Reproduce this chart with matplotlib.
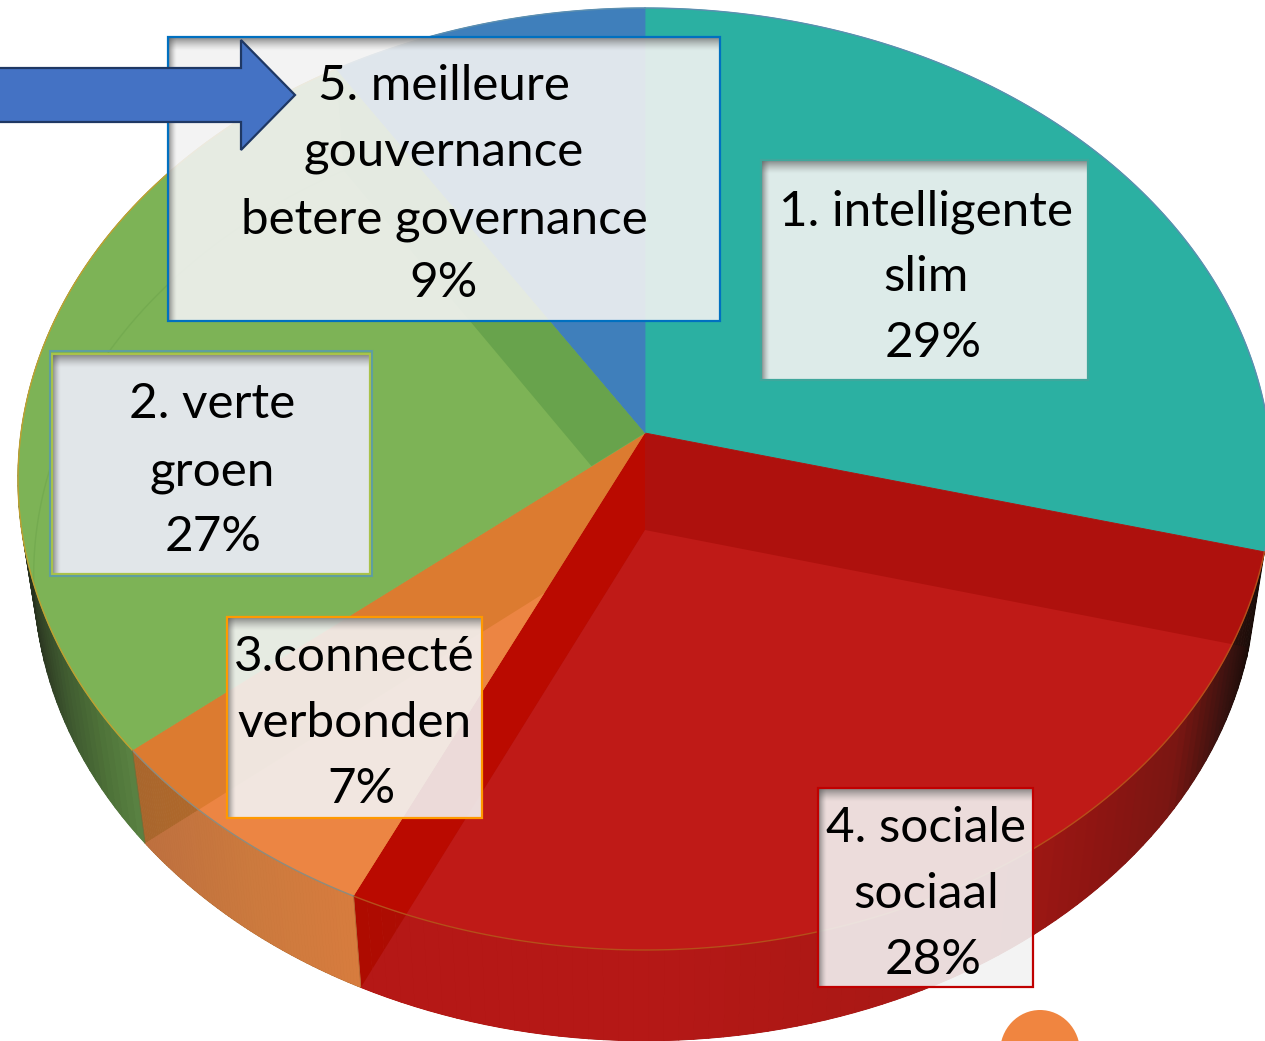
import numpy as np
import matplotlib
matplotlib.use('Agg')
import matplotlib.pyplot as plt
from matplotlib.collections import PolyCollection
from matplotlib.colors import to_rgb
from matplotlib.patches import Polygon, Rectangle, Ellipse

plt.rcParams['font.family'] = ['Lato', 'DejaVu Sans']

# slice shares, clockwise from 12 o'clock
values = [29, 28, 7, 27, 9]
names = ['slim', 'sociaal', 'verbonden', 'groen', 'governance']
top_colors = ['#2BB0A2', '#AE110D', '#DC7B30', '#7DB356', '#3F7FBB']
floor_colors = [None, '#BF1A17', '#EC8543', None, None]
band_colors = [None, '#BA0A00', None, '#68A34C', None]
rim_colors = ['#5C8FB0', '#B5501A', '#8C8C80', '#C0A030', '#5C8FB0']

# side wall colours against x pixel: (x, outside floor, inside floor)
side_x = {
    1: [355, 640, 1000, 1100, 1180, 1210, 1232, 1262],
    2: [133, 250, 360],
    3: [18, 60, 100, 147],
}
side_out = {
    1: ['#AE0B00', '#A81210', '#A51814', '#8E1512', '#7A1612', '#551410', '#2C100C', '#1A0C08'],
    2: ['#A9662C', '#B56A2A', '#B56A2A'],
    3: ['#27301E', '#3F5A30', '#4F7439', '#5F8A48'],
}
side_in = {
    1: ['#B51816', '#B51816', '#A51814', '#8E1512', '#7A1612', '#551410', '#3A1210', '#1A0C08'],
    2: ['#BE703F', '#CC7A3E', '#D87C3E'],
    3: ['#27301E', '#3F5A30', '#4F7439', '#5F8A48'],
}

# label boxes: left, top, right, bottom, border colour, fill, fill alpha
box_coords = [
    (761, 160, 1088, 380, '#3FA79C', '#F2F2F2', 0.9),
    (52, 354, 370, 574, '#A9C24A', '#E1E6E9', 1.0),
    (227, 617, 482, 818, '#FF9900', '#F2F2F2', 0.9),
    (818, 788, 1033, 987, '#C00000', '#F2F2F2', 0.9),
    (168, 37, 720, 321, '#0070C0', '#F2F2F2', 0.9),
]
# text lines: centre x, baseline y, text
label_lines = [
    (926, 225, '1. intelligente'), (926, 291, 'slim'), (933, 357, '29%'),
    (212, 418, '2. verte'), (212, 485, 'groen'), (213, 551, '27%'),
    (354, 671, '3.connecté'), (354, 737, 'verbonden'), (361, 803, '7%'),
    (926, 842, '4. sociale'), (926, 908, 'sociaal'), (933, 974, '28%'),
    (444, 100, '5. meilleure'), (444, 166, 'gouvernance'),
    (444, 233, 'betere governance'), (444, 297, '9%'),
]
arrow_x = [-6, 241, 241, 295, 241, 241, -6]
arrow_y = [68, 68, 40, 95, 150, 122, 122]

APEX_X, APEX_Y = 645, 433
K = 0.0977
A, B = 624, 466.5


def rim(frac):
    phi = 2 * np.pi * np.asarray(frac)
    x, y = np.sin(phi), np.cos(phi)
    d = 1 + K * y
    return A * x / d, B * y / d


def top_pts(frac):
    x, y = rim(frac)
    return np.column_stack([APEX_X + x, APEX_Y - y])


def low_pts(frac):
    x, y = rim(frac)
    return np.column_stack([APEX_X + 0.975 * x, APEX_Y + 97 - 0.988 * y])


def grad(xs, colors, x):
    rgb = np.array([to_rgb(c) for c in colors])
    return np.column_stack([np.interp(x, xs, rgb[:, i]) for i in range(3)])


def poly(ax, pts, color, clip=None, zorder=1, lw=0):
    p = Polygon(pts, closed=True, facecolor=color, edgecolor=color, lw=lw,
                zorder=zorder, transform=ax.transData)
    ax.add_patch(p)
    if clip is not None:
        p.set_clip_path(clip)
    return p


def side_wall(ax, fr, xs, colors, clip=None, zorder=1):
    a, b = top_pts(fr), low_pts(fr)
    quads = [[a[i], a[i + 1], b[i + 1], b[i]] for i in range(len(fr) - 1)]
    mid = (a[:-1, 0] + a[1:, 0]) / 2
    col = grad(xs, colors, mid)
    pc = PolyCollection(quads, facecolors=col, edgecolors=col, linewidths=0.6, zorder=zorder)
    ax.add_collection(pc)
    if clip is not None:
        pc.set_clip_path(clip)


def shadow(ax, l, t, r, b):
    # soft inner shadow along the top and left edge of a box
    n = 32
    ramp = np.linspace(0.78, 0, n) ** 1.4
    img = np.zeros((n, 1, 4))
    img[..., :3] = 0.35
    img[:, 0, 3] = ramp
    ax.imshow(img, extent=(l, r, t + 14, t), aspect='auto', zorder=6, interpolation='bilinear')
    img = np.zeros((1, n, 4))
    img[..., :3] = 0.35
    img[0, :, 3] = ramp
    ax.imshow(img, extent=(l, l + 9, b, t), aspect='auto', zorder=6, interpolation='bilinear')


fig = plt.figure(figsize=(12.65, 10.41), dpi=100)
ax = fig.add_axes([0, 0, 1, 1])
ax.set_axis_off()

cum = np.concatenate([[0], np.cumsum(values)]) / np.sum(values)
apex = np.array([[APEX_X, APEX_Y]])
apex_low = np.array([[APEX_X, APEX_Y + 97]])

# side walls first, the top surface goes over the hidden part
for i in [0, 4, 3, 2, 1]:
    fr = np.linspace(cum[i], cum[i + 1], 80)
    if i in side_x:
        floor = Polygon(np.vstack([apex_low, low_pts(fr)]), closed=True, transform=ax.transData)
        side_wall(ax, fr, side_x[i], side_out[i], zorder=1)
        side_wall(ax, fr, side_x[i], side_in[i], clip=floor, zorder=1.5)

# top surface, slice by slice
for i in range(len(values)):
    fr = np.linspace(cum[i], cum[i + 1], 120)
    wedge = np.vstack([apex, top_pts(fr)])
    wedge_clip = Polygon(wedge, closed=True, transform=ax.transData)
    poly(ax, wedge, top_colors[i], zorder=2, lw=0.6)
    if band_colors[i] is not None:
        # wall of the cut seen through the slice, along its neighbour
        edge = cum[i + 1]
        band = np.vstack([apex, top_pts([edge]), low_pts([edge]), apex_low])
        poly(ax, band, band_colors[i], clip=wedge_clip, zorder=2.2)
    if floor_colors[i] is not None:
        poly(ax, np.vstack([apex_low, low_pts(fr)]), floor_colors[i], clip=wedge_clip, zorder=2.4)
    if i == 3:
        # faint back edge of the pie base through the green
        lp = low_pts(fr)
        ln, = ax.plot(lp[:, 0], lp[:, 1], color='#74AB50', lw=1, zorder=2.5)
        ln.set_clip_path(wedge_clip)
    tp = top_pts(fr)
    ax.plot(tp[:, 0], tp[:, 1], color=rim_colors[i], lw=1, zorder=3)

# vertical seams on the front of the side
for f in [cum[2], cum[3]]:
    a, b = top_pts([f]), low_pts([f])
    ax.plot([a[0, 0], b[0, 0]], [a[0, 1], b[0, 1]], color='#8A5A30', lw=0.5, zorder=3, alpha=0.5)

# orange dot cut off at the bottom of the picture
ax.add_patch(Ellipse((1040, 1052), 80, 84, facecolor='#F08540', edgecolor='none', zorder=3))

for l, t, r, b, c, fill, alpha in box_coords:
    ax.add_patch(Rectangle((l, t), r - l, b - t, facecolor=fill, alpha=alpha,
                           edgecolor='none', zorder=5))
    shadow(ax, l, t, r, b)
    ax.add_patch(Rectangle((l, t), r - l, b - t, facecolor='none', edgecolor=c, lw=1.6, zorder=7))
# the green box has a second frame
ax.add_patch(Rectangle((50, 351), 322, 225, facecolor='none', edgecolor='#5F9EA0', lw=1.5, zorder=7))

ax.add_patch(Polygon(np.column_stack([arrow_x, arrow_y]), closed=True, facecolor='#4472C4',
                     edgecolor='#1F3864', lw=1.6, joinstyle='miter', zorder=8))

for x, y, s in label_lines:
    ax.text(x, y, s, ha='center', va='baseline', fontsize=35.6, color='black', zorder=9)

ax.set_xlim(0, 1265)
ax.set_ylim(1041, 0)

fig.savefig('out.png', dpi=100)
